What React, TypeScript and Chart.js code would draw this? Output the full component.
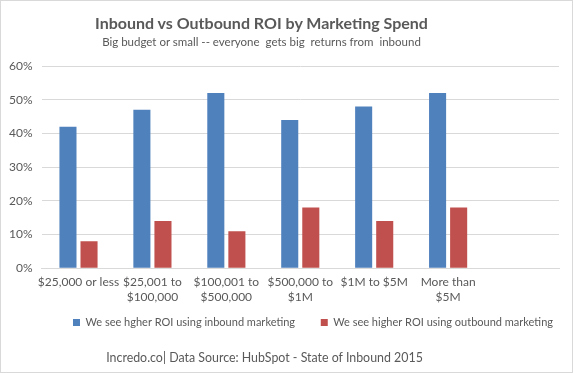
import React, { useEffect, useRef } from "react";
import { Chart, registerables } from "chart.js";

Chart.register(...registerables);

const categories: (string | string[])[] = [
  "$25,000 or less",
  ["$25,001 to", "$100,000"],
  ["$100,001 to", "$500,000"],
  ["$500,000 to", "$1M"],
  "$1M to $5M",
  ["More than", "$5M"],
  "",
];
const inboundValues = [42, 47, 52, 44, 48, 52, null];
const outboundValues = [8, 14, 11, 18, 14, 18, null];
const inboundLabel = "We see hgher ROI using inbound marketing";
const outboundLabel = "We see higher ROI using outbound marketing";
const titleText = "Inbound vs Outbound ROI by Marketing Spend";
const subtitleText = "Big budget or small -- everyone  gets big  returns from  inbound";
const footerText = "Incredo.co| Data Source: HubSpot - State of Inbound 2015";

const FONT = "Lato, 'Open Sans', sans-serif";
const TEXT = "#595959";

export default function App() {
  const ref = useRef<HTMLCanvasElement | null>(null);
  useEffect(() => {
    if (!ref.current) return;
    const defaultGen = Chart.defaults.plugins.legend.labels.generateLabels;
    const chart = new Chart(ref.current, {
      type: "bar",
      data: {
        labels: categories,
        datasets: [
          { label: inboundLabel, data: inboundValues, backgroundColor: "#4F81BD" },
          { label: outboundLabel, data: outboundValues, backgroundColor: "#C0504D" },
        ],
      },
      options: {
        responsive: false,
        animation: false,
        datasets: { bar: { categoryPercentage: 0.57, barPercentage: 0.81 } },
        layout: { padding: { top: 66, left: 0, right: 14, bottom: 35 } },
        scales: {
          x: {
            grid: { display: false, drawTicks: false },
            border: { color: "#d9d9d9" },
            ticks: { color: TEXT, font: { family: FONT, size: 12 }, padding: 7, maxRotation: 0, autoSkip: false },
          },
          y: {
            min: 0,
            max: 60,
            grid: { color: "#d9d9d9", drawTicks: false },
            border: { display: false },
            ticks: {
              stepSize: 10,
              color: TEXT,
              padding: 9,
              font: { family: FONT, size: 12 },
              callback: (v: any) => `${v}%`,
            },
          },
        },
        plugins: {
          legend: {
            position: "bottom",
            fullSize: false,
            align: "end",
            labels: {
              boxWidth: 7,
              boxHeight: 7,
              color: TEXT,
              padding: 6,
              font: { family: FONT, size: 11 },
              generateLabels: (c: any) => {
                const items = defaultGen(c);
                return items.map((it: any, i: number) =>
                  i < items.length - 1 ? { ...it, text: it.text + "       " } : it
                );
              },
            },
          },
          tooltip: { enabled: false },
        },
      },
    });
    return () => chart.destroy();
  }, []);

  return (
    <div style={{ position: "absolute", left: 0, top: 0, width: 573, height: 373, background: "#fff" }}>
      <canvas ref={ref} width={573} height={373} style={{ position: "absolute", left: 0, top: 0, display: "block" }} />
      <div style={{ position: "absolute", left: 0, top: 12, width: 523, textAlign: "center", fontFamily: FONT, fontWeight: 700, fontSize: 16, lineHeight: "22px", color: TEXT }}>
        {titleText}
      </div>
      <div style={{ position: "absolute", left: 0, top: 33, width: 523, textAlign: "center", fontFamily: FONT, fontSize: 11.5, lineHeight: "18px", color: TEXT, whiteSpace: "pre" }}>
        {subtitleText}
      </div>
      <div style={{ position: "absolute", left: 0, top: 350, width: 529, textAlign: "center", fontFamily: FONT, fontSize: 12.4, lineHeight: "16px", color: TEXT }}>
        {footerText}
      </div>
      <div style={{ position: "absolute", left: 0, top: 0, width: 573, height: 373, boxSizing: "border-box", border: "1px solid #d9d9d9", pointerEvents: "none" }} />
    </div>
  );
}
